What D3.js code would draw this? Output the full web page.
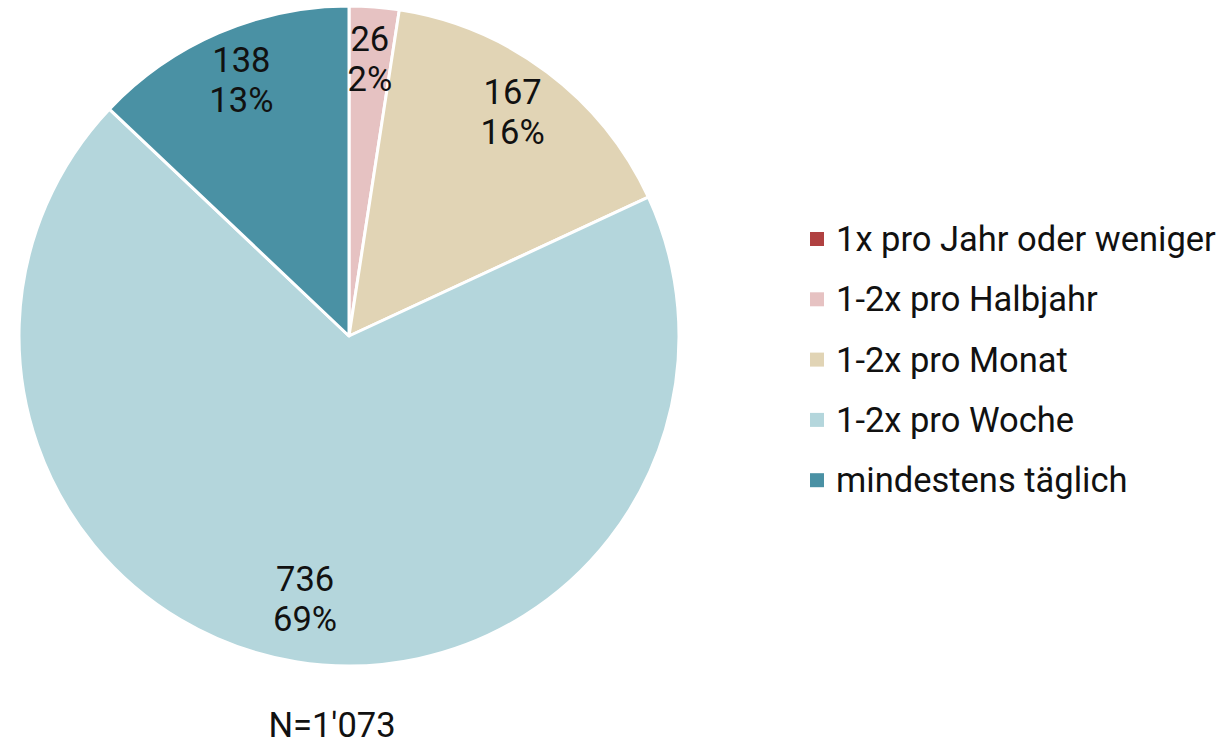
<!DOCTYPE html>
<html><head><meta charset="utf-8">
<script src="https://cdn.jsdelivr.net/npm/d3@7"></script>
<style>body{margin:0;background:#fff}svg{display:block}text{font-family:Roboto,"Noto Sans",sans-serif;fill:#111}</style>
</head><body>
<svg id="c" width="1227" height="746"></svg>
<script>
const categories = ["1x pro Jahr oder weniger","1-2x pro Halbjahr","1-2x pro Monat","1-2x pro Woche","mindestens täglich"];
const values = [0, 26, 167, 736, 138];
const percentLabels = ["0%","2%","16%","69%","13%"];
const colors = ["#b04141","#e6c2c2","#e1d4b5","#b4d6dc","#4a91a4"];
const footnote = "N=1'073";

const svg = d3.select("#c");
const cx = 349, cy = 336, R = 330;
const FS = "34.5px";
const g = svg.append("g").attr("transform", `translate(${cx},${cy})`);
const pie = d3.pie().sort(null).value(d => d.v);
const data = pie(categories.map((c,i)=>({c, v: values[i], i})));
const arc = d3.arc().innerRadius(0).outerRadius(R);
const labelArc = d3.arc().innerRadius(R*0.825).outerRadius(R*0.825);
g.selectAll("path").data(data).join("path")
  .attr("d", arc).attr("fill", d => colors[d.data.i])
  .attr("stroke", "#fff").attr("stroke-width", 3).attr("stroke-linejoin","round");
const lab = g.selectAll("g.lab").data(data.filter(d => d.data.v > 0)).join("g").attr("class","lab")
  .attr("transform", d => `translate(${labelArc.centroid(d)})`);
lab.append("text").attr("text-anchor","middle").attr("y",-14).style("font-size",FS).text(d => d.data.v);
lab.append("text").attr("text-anchor","middle").attr("y",26).style("font-size",FS).text(d => percentLabels[d.data.i]);

const leg = svg.append("g").attr("transform","translate(810,232)");
const y = d3.scalePoint().domain(categories).range([0, 60.3*4]);
const rows = leg.selectAll("g").data(categories).join("g").attr("transform", d => `translate(0,${y(d)})`);
rows.append("rect").attr("width",14).attr("height",14).attr("fill",(d,i)=>colors[i]);
rows.append("text").attr("x",26).attr("y",7).attr("dy","0.35em").style("font-size",FS).text(d => d);

svg.append("text").attr("x",332).attr("y",737).attr("text-anchor","middle").style("font-size",FS).text(footnote);
</script>
</body></html>
